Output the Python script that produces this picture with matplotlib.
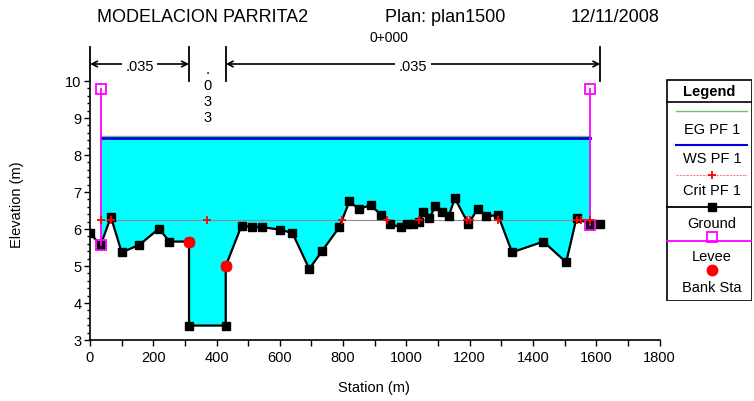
import matplotlib
matplotlib.use("Agg")
import matplotlib.pyplot as plt
from matplotlib.ticker import MultipleLocator
from matplotlib.patches import Rectangle
import matplotlib.transforms as mtransforms

plt.rcParams['font.family'] = ['Liberation Sans', 'DejaVu Sans']

# ---- cross-section data -------------------------------------------------
station = [0, 34, 66, 100, 156, 218, 251, 313, 313, 429, 429, 479, 512, 545,
           602, 640, 693, 734, 788, 820, 849, 887, 921, 949, 982, 1002, 1020,
           1041, 1054, 1073, 1092, 1111, 1134, 1153, 1196, 1225, 1253, 1290,
           1334, 1433, 1505, 1538, 1580, 1613]
ground = [5.88, 5.57, 6.33, 5.37, 5.57, 6.01, 5.66, 5.66, 3.39, 3.39, 5.00,
          6.09, 6.05, 6.05, 5.98, 5.89, 4.92, 5.41, 6.05, 6.75, 6.54, 6.64,
          6.38, 6.13, 6.05, 6.14, 6.14, 6.18, 6.45, 6.29, 6.63, 6.45, 6.35,
          6.83, 6.14, 6.54, 6.35, 6.37, 5.37, 5.66, 5.10, 6.31, 6.12, 6.14]

levee_sta = [34, 1580]
levee_base = [5.57, 6.12]
levee_top = [9.79, 9.79]

bank_sta = [313, 429]
bank_elev = [5.66, 5.00]

ws_elev = 8.45
eg_elev = 8.51
crit_elev = 6.23
crit_sta = [34, 66, 370, 798, 938, 1041, 1192, 1202, 1290, 1540, 1552, 1580]

n_bounds = [0, 313, 429, 1613]
n_values = [".035", ".033", ".035"]

title_parts = ["MODELACION PARRITA2", "Plan: plan1500", "12/11/2008"]
river_sta = "0+000"

legend_labels = ["EG PF 1", "WS PF 1", "Crit PF 1", "Ground", "Levee", "Bank Sta"]

# ---- figure layout (pixel helpers) --------------------------------------
W, H = 754, 402
fig = plt.figure(figsize=(W / 100, H / 100), dpi=100)


def fx(x):
    return x / W


def fy(y):
    return 1 - y / H


ax_l, ax_r, ax_t, ax_b = 90, 659.5, 82, 341
ax = fig.add_axes([fx(ax_l), fy(ax_b), (ax_r - ax_l) / W, (ax_b - ax_t) / H])
ax.set_xlim(0, 1800)
ax.set_ylim(3, 10)

# water surface fill between the levees
i0 = station.index(levee_sta[0])
i1 = len(station) - 1 - station[::-1].index(levee_sta[1])
xs = station[i0:i1 + 1]
gs = ground[i0:i1 + 1]
ax.fill_between(xs, gs, ws_elev, where=[g < ws_elev for g in gs],
                color='#00ffff', linewidth=0, zorder=1)

# energy grade, water surface and critical lines
ax.plot([levee_sta[0], levee_sta[1]], [eg_elev, eg_elev], color='#6cbf6c', lw=1.0, zorder=3)
ax.plot([levee_sta[0], levee_sta[1]], [ws_elev, ws_elev], color='#0000e0', lw=2.0, zorder=4)
ax.plot([levee_sta[0], levee_sta[1]], [crit_elev, crit_elev], color='#8c8c8c', lw=0.8, zorder=2)

# ground profile
ax.plot(station, ground, color='black', lw=1.6, marker='s', ms=5.2,
        mfc='black', mec='black', zorder=5)

# critical depth markers
ax.plot(crit_sta, [crit_elev] * len(crit_sta), ls='none', marker='+', ms=6,
        mew=1.3, color='#ff0000', zorder=7)

# levees
for s, b, t in zip(levee_sta, levee_base, levee_top):
    ax.plot([s, s], [b, t], color='#ff00ff', lw=1.3, zorder=6)
    ax.plot([s, s], [b, t], ls='none', marker='s', ms=7, mfc='none',
            mec='#ff00ff', mew=1.3, zorder=6)

# bank stations
ax.plot(bank_sta, bank_elev, ls='none', marker='o', ms=7.5, color='#ff0000', zorder=8)

# axes styling
for side in ('top', 'right'):
    ax.spines[side].set_visible(False)
for side in ('left', 'bottom'):
    ax.spines[side].set_linewidth(1.2)
ax.xaxis.set_major_locator(MultipleLocator(200))
ax.xaxis.set_minor_locator(MultipleLocator(100))
ax.yaxis.set_major_locator(MultipleLocator(1))
ax.yaxis.set_minor_locator(MultipleLocator(0.2))
ax.tick_params(axis='both', which='both', direction='out', width=1.0, labelsize=10.5)
ax.tick_params(axis='x', which='major', length=4, pad=3)
ax.tick_params(axis='x', which='minor', length=4)
ax.tick_params(axis='y', which='major', length=4.5, pad=1.5)
ax.tick_params(axis='y', which='minor', length=2.5)

fig.text(fx(374), fy(388), "Station (m)", ha='center', va='center', fontsize=10.5)
fig.text(fx(17), fy(205), "Elevation (m)", ha='center', va='center',
         rotation=90, fontsize=10.5)

# titles
fig.text(fx(97), fy(17), title_parts[0], ha='left', va='center', fontsize=13)
fig.text(fx(385), fy(17), title_parts[1], ha='left', va='center', fontsize=13)
fig.text(fx(660), fy(17), title_parts[2], ha='right', va='center', fontsize=13)
fig.text(fx(389), fy(38), river_sta, ha='center', va='center', fontsize=10)

# Manning's n regions above the plot
trans = mtransforms.blended_transform_factory(ax.transData, ax.transAxes)


def ay(py):
    return (ax_b - py) / (ax_b - ax_t)


for s in n_bounds:
    ax.plot([s, s], [ay(82), ay(48)], transform=trans, color='black', lw=1.3,
            clip_on=False, zorder=9)

for k, val in enumerate(n_values):
    a, b = n_bounds[k], n_bounds[k + 1]
    mid = (a + b) / 2
    if b - a > 200:
        ax.annotate("", xy=(a, ay(65)), xytext=(b, ay(65)), xycoords=trans,
                    textcoords=trans,
                    arrowprops=dict(arrowstyle='<->', color='black', lw=1.2,
                                    shrinkA=0, shrinkB=0,
                                    mutation_scale=10))
        ax.text(mid, ay(67), val, transform=trans, ha='center', va='center',
                fontsize=10.5, clip_on=False,
                bbox=dict(boxstyle='square,pad=0.25', fc='white', ec='none'))
    else:
        for j, ch in enumerate(val):
            ax.text(mid, ay(74 + 16 * j), ch, transform=trans, ha='center',
                    va='baseline', fontsize=10.5, clip_on=False)

# legend panel
lg = fig.add_axes([fx(666), fy(302), (752 - 666) / W, (302 - 80) / H])
lg.set_xlim(666, 752)
lg.set_ylim(302, 80)
lg.axis('off')
lg.add_patch(Rectangle((666.5, 80.5), 85, 221, fill=False, ec='black', lw=1.2))
lg.plot([666, 752], [103, 103], color='black', lw=1.2)
lg.text(709, 92, "Legend", ha='center', va='center', fontsize=10.5, fontweight='bold')

cx = 712
lg.plot([676, 747], [111.7, 111.7], color='#6cbf6c', lw=1.0)
lg.plot([676, 747], [146, 146], color='#0000e0', lw=1.5)
lg.plot([676, 747], [176, 176], color='#ff8080', lw=0.8, ls=(0, (2, 1)))
lg.plot([cx], [176], marker='+', ms=6, mew=1.3, color='#ff0000')
lg.plot([667, 751], [208, 208], color='black', lw=1.3)
lg.plot([cx], [208], marker='s', ms=5.2, color='black')
lg.plot([667, 751], [241.7, 241.7], color='#ff00ff', lw=1.3)
lg.plot([cx], [238.5], marker='s', ms=6.5, mfc='none', mec='#ff00ff', mew=1.3)
lg.plot([cx], [270.7], marker='o', ms=7.5, color='#ff0000')

for lab, yy in zip(legend_labels, [130, 159, 190.7, 224, 257, 288]):
    lg.text(cx, yy, lab, ha='center', va='center', fontsize=10.5)

fig.savefig("out.png", dpi=100)
